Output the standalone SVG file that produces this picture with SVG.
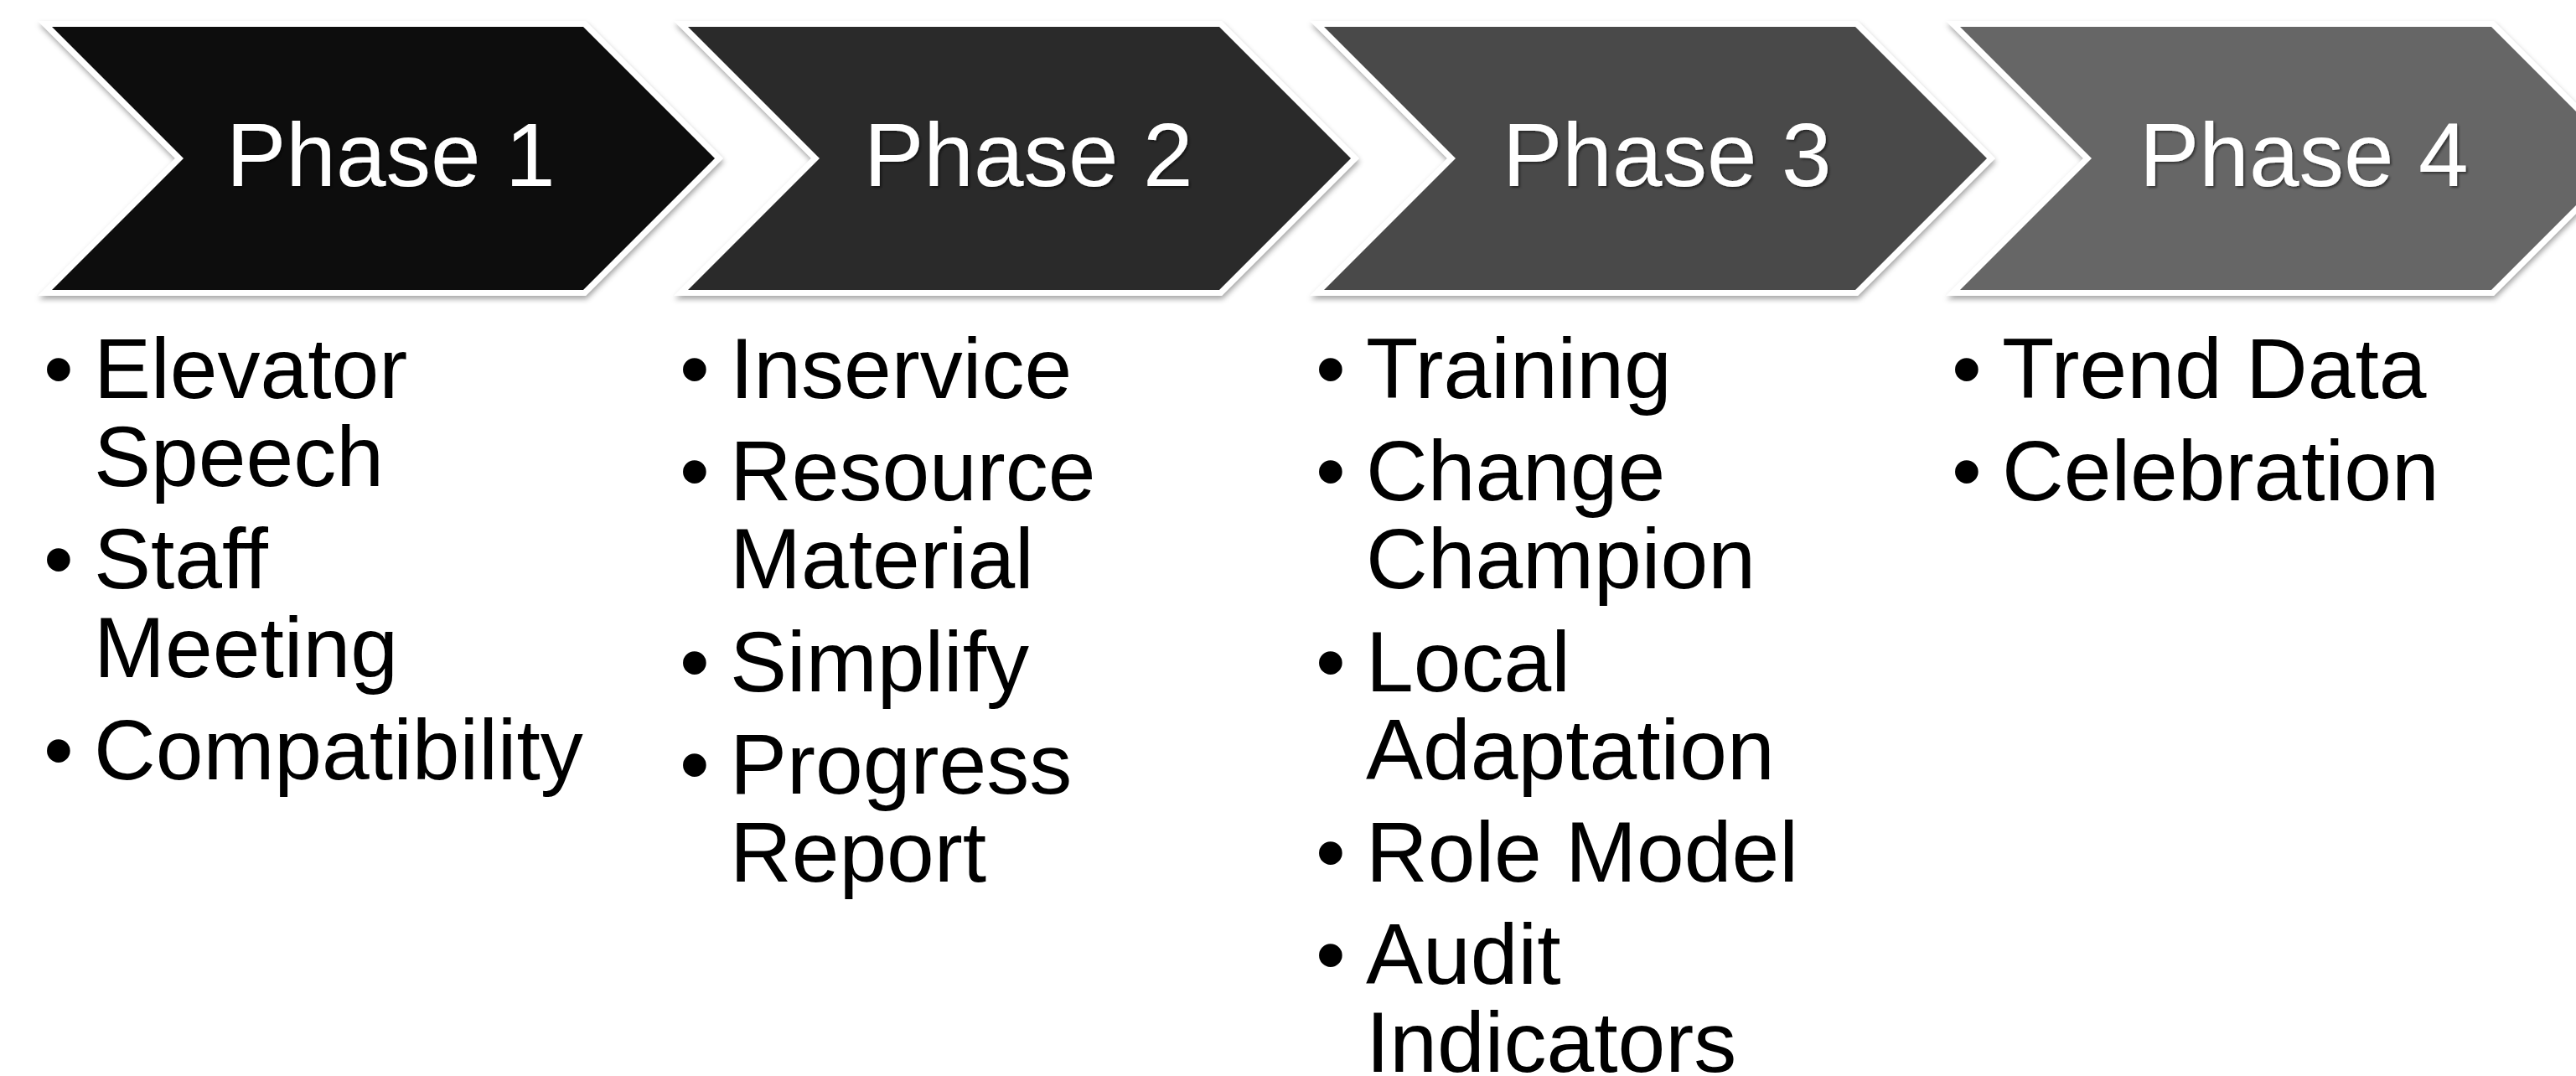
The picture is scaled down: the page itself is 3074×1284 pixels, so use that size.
<svg xmlns="http://www.w3.org/2000/svg" xmlns:xlink="http://www.w3.org/1999/xlink" width="3074" height="1284" viewBox="0 0 3074 1284">
  <defs>
    <path id="chev" d="M0,32 H634 L791,189 L634,346 H0 L157,189 Z"/>
    <filter id="shapeShadow" x="-5%" y="-10%" width="110%" height="130%">
      <feDropShadow dx="1" dy="4" stdDeviation="3" flood-color="#000" flood-opacity="0.35"/>
    </filter>
    <filter id="textShadow" x="-5%" y="-20%" width="110%" height="140%">
      <feDropShadow dx="2" dy="2" stdDeviation="1.5" flood-color="#000" flood-opacity="0.5"/>
    </filter>
  </defs>
  <style>
    .chev { stroke: #ffffff; stroke-width: 14; stroke-linejoin: miter; paint-order: stroke; filter: url(#shapeShadow); }
    .title { font-family: "Liberation Sans", Arial, sans-serif; font-size: 107px; fill: #ffffff; filter: url(#textShadow); }
    .item { font-family: "Liberation Sans", Arial, sans-serif; font-size: 102px; fill: #000000; }
  </style>
  <rect width="3074" height="1284" fill="#ffffff"/>

  <g id="phase1">
    <use xlink:href="#chev" href="#chev" x="62" class="chev" fill="#111111"/>
    <text class="title" x="270" y="222">Phase 1</text>
    <g class="item">
      <text x="52" y="475">•</text><text x="112" y="475">Elevator</text>
      <text x="112" y="580">Speech</text>
      <text x="52" y="702">•</text><text x="112" y="702">Staff</text>
      <text x="112" y="808">Meeting</text>
      <text x="52" y="930">•</text><text x="112" y="930">Compatibility</text>
    </g>
  </g>

  <g id="phase2">
    <use xlink:href="#chev" href="#chev" x="821" class="chev" fill="#2b2b2b"/>
    <text class="title" x="1031" y="222">Phase 2</text>
    <g class="item">
      <text x="811" y="475">•</text><text x="871" y="475">Inservice</text>
      <text x="811" y="597">•</text><text x="871" y="597">Resource</text>
      <text x="871" y="702">Material</text>
      <text x="811" y="825">•</text><text x="871" y="825">Simplify</text>
      <text x="811" y="947">•</text><text x="871" y="947">Progress</text>
      <text x="871" y="1052">Report</text>
    </g>
  </g>

  <g id="phase3">
    <use xlink:href="#chev" href="#chev" x="1580" class="chev" fill="#484848"/>
    <text class="title" x="1793" y="222">Phase 3</text>
    <g class="item">
      <text x="1570" y="475">•</text><text x="1630" y="475">Training</text>
      <text x="1570" y="597">•</text><text x="1630" y="597">Change</text>
      <text x="1630" y="702">Champion</text>
      <text x="1570" y="825">•</text><text x="1630" y="825">Local</text>
      <text x="1630" y="930">Adaptation</text>
      <text x="1570" y="1052">•</text><text x="1630" y="1052">Role Model</text>
      <text x="1570" y="1174">•</text><text x="1630" y="1174">Audit</text>
      <text x="1630" y="1279">Indicators</text>
    </g>
  </g>

  <g id="phase4">
    <use xlink:href="#chev" href="#chev" x="2339" class="chev" fill="#666666"/>
    <text class="title" x="2553" y="222">Phase 4</text>
    <g class="item">
      <text x="2329" y="475">•</text><text x="2389" y="475">Trend Data</text>
      <text x="2329" y="597">•</text><text x="2389" y="597">Celebration</text>
    </g>
  </g>
</svg>
